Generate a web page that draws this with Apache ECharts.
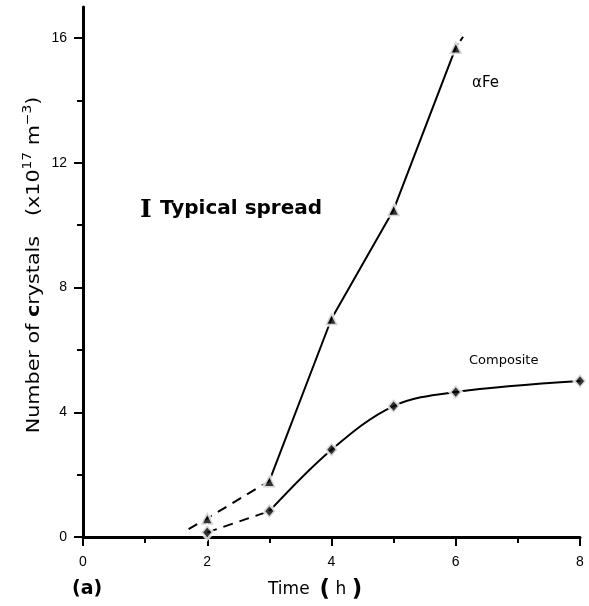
<!DOCTYPE html>
<html><head><meta charset="utf-8">
<script src="https://cdn.jsdelivr.net/npm/echarts@6/dist/echarts.min.js"></script>
<style>html,body{margin:0;padding:0;background:#fff}#c{width:589px;height:606px}</style>
</head><body><div id="c"></div>
<script>
// Data
const aFeTimes = [2, 3, 4, 5, 6];
const aFeValues = [0.6, 1.8, 7.0, 10.5, 15.7];
const aFeDashStart = [1.7, 0.25];
const aFeTailEnd = [6.12, 16.05];
const compTimes = [2, 3, 4, 5, 6, 8];
const compValues = [0.15, 0.83, 2.8, 4.2, 4.65, 5.0];
const xTicks = [0, 2, 4, 6, 8];
const yTicks = [0, 4, 8, 12, 16];
const yMinorTicks = [2, 6, 10, 14];

const aFePts = aFeTimes.map((t, i) => [t, aFeValues[i]]);
const compPts = compTimes.map((t, i) => [t, compValues[i]]);

const chart = echarts.init(document.getElementById('c'));
const font = 'Liberation Sans, Arial, sans-serif';
const dv = 'DejaVu Sans, sans-serif';
const lineStyle = (dashed) => ({ color: '#000', width: 2, type: dashed ? [10, 7] : 'solid' });

chart.setOption({
  animation: false,
  grid: { left: 83, right: 9, top: 7, bottom: 69, containLabel: false },
  xAxis: {
    type: 'value', min: 0, max: 8, interval: 2,
    axisLine: { lineStyle: { color: '#000', width: 3 } },
    axisTick: { length: 9, lineStyle: { color: '#000', width: 2 } },
    minorTick: { show: true, splitNumber: 2, length: 6, lineStyle: { color: '#000', width: 2 } },
    splitLine: { show: false },
    axisLabel: { color: '#000', fontSize: 14, fontFamily: font, margin: 18,
      customValues: xTicks }
  },
  yAxis: [{
    type: 'value', min: 0, max: 17,
    axisLine: { lineStyle: { color: '#000', width: 3 } },
    axisTick: { length: 9, customValues: yTicks, lineStyle: { color: '#000', width: 2 } },
    splitLine: { show: false },
    axisLabel: { color: '#000', fontSize: 14, fontFamily: font, margin: 16, customValues: yTicks }
  }, {
    type: 'value', min: 0, max: 17, position: 'left',
    axisLine: { show: false },
    axisTick: { show: true, length: 6, customValues: yMinorTicks, lineStyle: { color: '#000', width: 2 } },
    axisLabel: { show: false }, splitLine: { show: false }
  }],
  series: [
    { type: 'line', data: [aFeDashStart, aFePts[0], aFePts[1]], smooth: 0.4, symbol: 'none', lineStyle: lineStyle(true), z: 2 },
    { type: 'line', data: aFePts.slice(1), smooth: false, symbol: 'none', lineStyle: lineStyle(false), z: 2 },
    { type: 'line', data: [aFePts[4], aFeTailEnd], symbol: 'none', lineStyle: { color: '#000', width: 2, type: [5, 3] }, z: 2 },
    { type: 'line', data: compPts.slice(0, 2), smooth: false, symbol: 'none', lineStyle: lineStyle(true), z: 2 },
    { type: 'line', data: compPts.slice(1), smooth: 0.35, symbol: 'none', lineStyle: lineStyle(false), z: 2 },
    { type: 'scatter', data: aFePts, symbol: 'triangle', symbolSize: 13,
      itemStyle: { color: '#000', borderColor: '#fff', borderWidth: 3 }, z: 5 },
    { type: 'scatter', data: compPts, symbol: 'diamond', symbolSize: [12, 14],
      itemStyle: { color: '#000', borderColor: '#fff', borderWidth: 3 }, z: 5 }
  ],
  graphic: [
    { type: 'text', x: 34, y: 265, rotation: Math.PI / 2, scaleX: 1.15,
      style: { text: '{n|Number of }{b|c}{n|rystals   (x10}{s|17}{n| m}{s|−3}{n|)}',
        align: 'center', verticalAlign: 'middle',
        rich: {
          n: { fontSize: 18, fontFamily: dv, fill: '#000', lineHeight: 24 },
          b: { fontSize: 18, fontFamily: dv, fill: '#000', fontWeight: 'bold', lineHeight: 24 },
          s: { fontSize: 12, fontFamily: dv, fill: '#000', verticalAlign: 'top', lineHeight: 24 } } } },
    { type: 'text', x: 268, y: 590,
      style: { text: '{t|Time}   {p|(}{h| h }{p|)}', align: 'left', verticalAlign: 'middle',
        rich: {
          t: { fontSize: 17, fontFamily: dv, fill: '#000' },
          h: { fontSize: 17, fontFamily: dv, fill: '#000' },
          p: { fontSize: 23, fontFamily: dv, fontWeight: 'bold', fill: '#000' } } } },
    { type: 'text', left: 472, top: 76, style: { text: 'αFe', fontSize: 15, fontFamily: dv, fill: '#000' } },
    { type: 'text', left: 469, top: 354, style: { text: 'Composite', fontSize: 13, fontFamily: dv, fill: '#000' } },
    { type: 'text', left: 140, top: 198, style: { text: 'I', fontSize: 25, fontWeight: 'bold', fontFamily: 'DejaVu Serif, serif', fill: '#000' } },
    { type: 'text', left: 160, top: 199, style: { text: 'Typical spread', fontSize: 20, fontWeight: 'bold', fontFamily: dv, fill: '#000' } },
    { type: 'text', left: 72, top: 580, style: { text: '(a)', fontSize: 19, fontWeight: 'bold', fontFamily: dv, fill: '#000' } }
  ]
});
</script></body></html>
